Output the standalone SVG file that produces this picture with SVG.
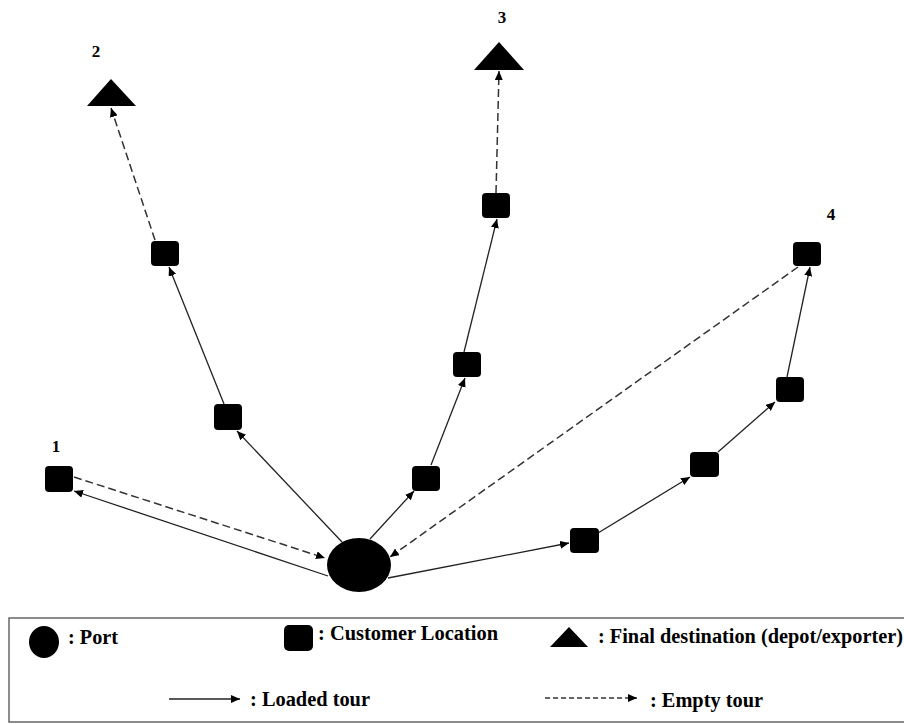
<svg xmlns="http://www.w3.org/2000/svg" width="904" height="724" viewBox="0 0 904 724">
<style>
.sq{fill:#000}
.lbl{font-family:"Liberation Serif","Times New Roman",serif;font-weight:bold;font-size:17px;fill:#000;text-anchor:middle}
.lg{font-family:"Liberation Serif","Times New Roman",serif;font-weight:bold;font-size:20px;fill:#000}
.ld{fill:none;stroke:#222;stroke-width:1.3;marker-end:url(#ah)}
.em{fill:none;stroke:#333;stroke-width:1.5;stroke-dasharray:8 4;marker-end:url(#ah)}
</style>
<defs>
<marker id="ah" markerUnits="userSpaceOnUse" markerWidth="10" markerHeight="8" refX="9" refY="4" orient="auto">
<path d="M0,0 L9,4 L0,8 Z" fill="#000"/>
</marker>
</defs>
<rect width="904" height="724" fill="#fff"/>
<g id="connectors">
<line class="ld" x1="328" y1="576" x2="74" y2="491"/>
<line class="em" x1="74" y1="477" x2="325" y2="558"/>
<line class="ld" x1="342" y1="542" x2="237" y2="431"/>
<line class="ld" x1="224" y1="404" x2="169" y2="267"/>
<line class="em" x1="155" y1="240" x2="111" y2="108"/>
<line class="ld" x1="370" y1="539" x2="414" y2="491"/>
<line class="ld" x1="431" y1="465" x2="465" y2="378"/>
<line class="ld" x1="464" y1="352" x2="497" y2="219"/>
<line class="em" x1="496" y1="193" x2="499" y2="71"/>
<line class="ld" x1="388" y1="578" x2="569" y2="543"/>
<line class="ld" x1="598" y1="533" x2="690" y2="477"/>
<line class="ld" x1="718" y1="452" x2="775" y2="402"/>
<line class="ld" x1="787" y1="377" x2="810" y2="267"/>
<line class="em" x1="798" y1="267" x2="390" y2="557"/>
</g>
<g id="port"><ellipse cx="359" cy="565" rx="32" ry="27" fill="#000"/></g>
<g id="n1"><rect class="sq" x="45" y="466" width="28" height="26" rx="4"/><text class="lbl" x="56" y="452">1</text></g>
<g id="a1"><rect class="sq" x="214" y="404" width="28" height="26" rx="4"/></g>
<g id="a2"><rect class="sq" x="151" y="241" width="28" height="25" rx="4"/></g>
<g id="t2"><polygon points="111,79 87,106 136,106" fill="#000"/><text class="lbl" x="96" y="57">2</text></g>
<g id="b1"><rect class="sq" x="412" y="466" width="28" height="25" rx="4"/></g>
<g id="b2"><rect class="sq" x="453" y="352" width="28" height="25" rx="4"/></g>
<g id="b3"><rect class="sq" x="482" y="193" width="28" height="25" rx="4"/></g>
<g id="t3"><polygon points="499,42 474,70 524,70" fill="#000"/><text class="lbl" x="502" y="23">3</text></g>
<g id="c1"><rect class="sq" x="570" y="528" width="29" height="25" rx="4"/></g>
<g id="c2"><rect class="sq" x="690" y="452" width="29" height="25" rx="4"/></g>
<g id="c3"><rect class="sq" x="776" y="377" width="28" height="25" rx="4"/></g>
<g id="n4"><rect class="sq" x="793" y="242" width="28" height="24" rx="4"/><text class="lbl" x="831" y="220">4</text></g>
<g id="legend">
<rect x="9" y="618" width="900" height="104" fill="none" stroke="#666" stroke-width="1.5"/>
<ellipse cx="44" cy="642" rx="15" ry="16" fill="#000"/>
<text class="lg" x="68" y="644" textLength="50" lengthAdjust="spacingAndGlyphs">: Port</text>
<rect x="284" y="625" width="29" height="26" rx="5" fill="#000"/>
<text class="lg" x="318" y="640" textLength="180" lengthAdjust="spacingAndGlyphs">: Customer Location</text>
<polygon points="569,627 550,647 588,647" fill="#000"/>
<text class="lg" x="598" y="643" textLength="305" lengthAdjust="spacingAndGlyphs">: Final destination  (depot/exporter)</text>
<line class="ld" x1="169" y1="699" x2="240" y2="699"/>
<text class="lg" x="250" y="706" textLength="120" lengthAdjust="spacingAndGlyphs">: Loaded tour</text>
<line class="em" x1="545" y1="698" x2="637" y2="698" style="stroke-dasharray:5 3;stroke-width:1.3"/>
<text class="lg" x="650" y="707" textLength="113" lengthAdjust="spacingAndGlyphs">: Empty tour</text>
</g>
</svg>
